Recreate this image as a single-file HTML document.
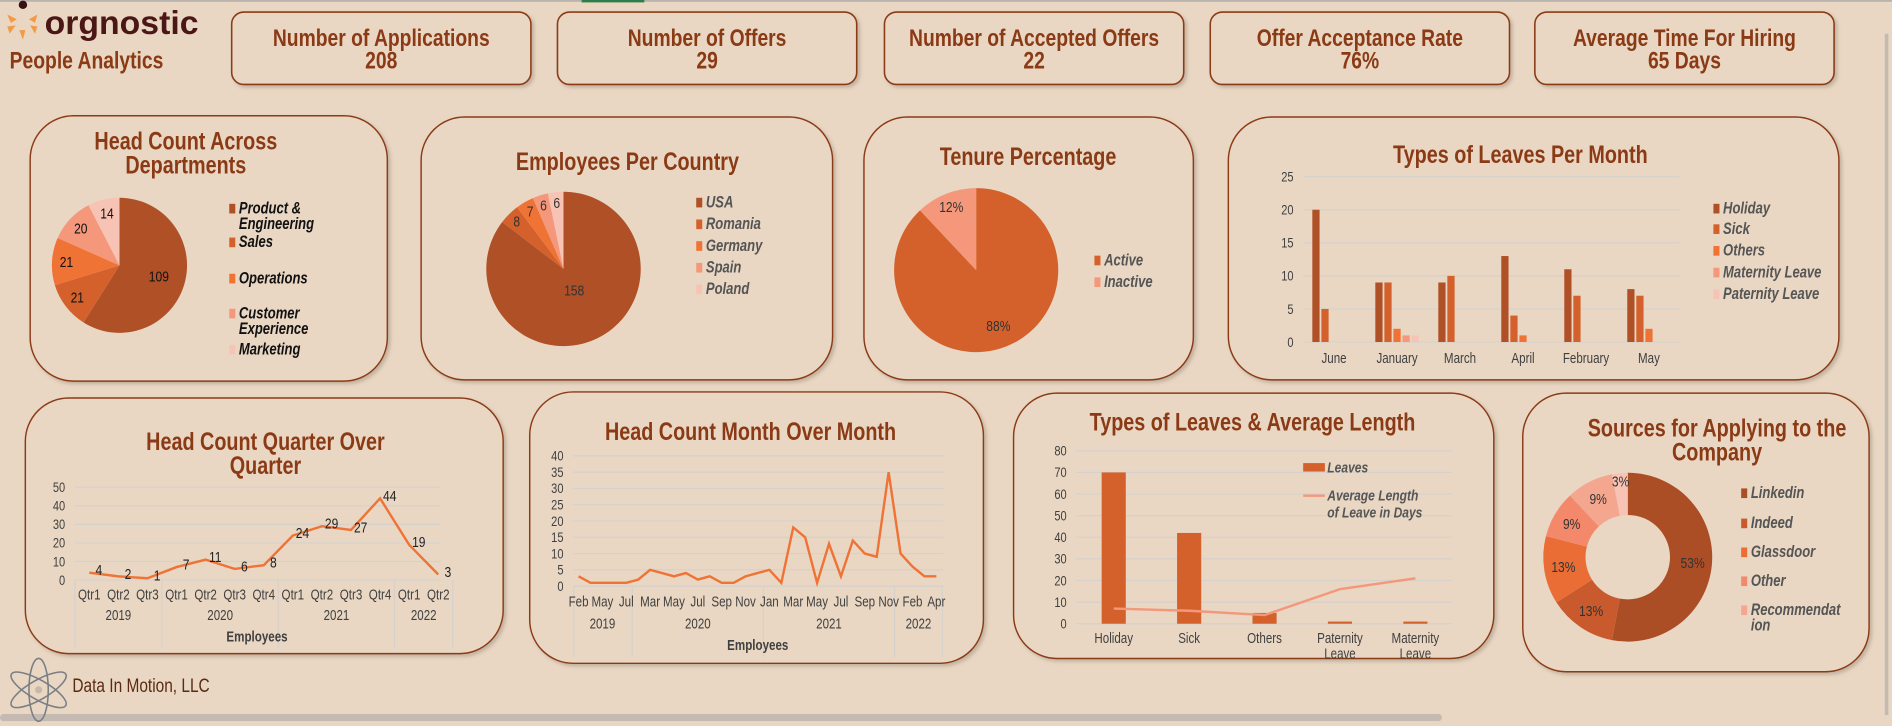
<!DOCTYPE html>
<html><head><meta charset="utf-8"><title>People Analytics</title>
<style>
html,body{margin:0;padding:0;background:#e9d7c3;overflow:hidden;}
svg{display:block;font-family:"Liberation Sans",sans-serif;}
</style></head>
<body>
<svg id="dash" width="1892" height="726" viewBox="0 0 1568 602" preserveAspectRatio="none" xmlns="http://www.w3.org/2000/svg">
<defs>
<filter id="sh" x="-5%" y="-5%" width="115%" height="120%"><feDropShadow dx="2" dy="2" stdDeviation="1.5" flood-color="#7a6a5a" flood-opacity="0.35"/></filter>
</defs>
<rect x="0" y="0" width="1568" height="602" fill="#e9d7c3"/>
<rect x="0" y="0" width="1568" height="1.5" fill="#b9b3ad"/>
<rect x="482" y="0" width="52" height="2" fill="#2e7d4a"/>
<rect x="0" y="592" width="1195" height="6" rx="3" fill="#c4bab2"/>
<rect x="1562" y="28" width="3" height="565" fill="#c4bab2"/>
<g id="logo">
 <circle cx="19" cy="4" r="3.5" fill="#3a1010"/>
 <path d="M6 12 L14 16 L9 19 Z M31 12 L24 16 L29 19 Z M6 22 L13 21 L8 28 Z M31 22 L25 21 L29 28 Z M16 25 L19 33 L21 25 Z" fill="#f39a45"/>
 <text x="37" y="28" font-size="28" font-weight="bold" fill="#4b1616" class="nc">orgnostic</text>
</g>
<text x="8" y="57" font-size="20" fill="#8b3a16" font-weight="bold">People Analytics</text>
<g id="kpis"></g>
<g id="cards"></g>
<g id="footer-logo">
 <g fill="none" stroke="#7a7f85" stroke-width="1.3">
  <ellipse cx="32" cy="572" rx="8" ry="26"/>
  <ellipse cx="32" cy="572" rx="8" ry="26" transform="rotate(60 32 572)"/>
  <ellipse cx="32" cy="572" rx="8" ry="26" transform="rotate(-60 32 572)"/>
 </g>
 <circle cx="32" cy="572" r="3" fill="#c9b8aa"/>
 <text x="60" y="574" font-size="16" fill="#5a2a12">Data In Motion, LLC</text>
</g>
</svg>
<script>
// ---------- DATA ----------
const kpiTitles = ["Number of Applications","Number of Offers","Number of Accepted Offers","Offer Acceptance Rate","Average Time For Hiring"];
const kpiValues = ["208","29","22","76%","65 Days"];

const deptNames = ["Product & Engineering","Sales","Operations","Customer Experience","Marketing"];
const deptValues = [109,21,21,20,14];

const countryNames = ["USA","Romania","Germany","Spain","Poland"];
const countryValues = [158,8,7,6,6];

const tenureNames = ["Active","Inactive"];
const tenureValues = [88,12];

const leaveMonths = ["June","January","March","April","February","May"];
const leaveSeries = ["Holiday","Sick","Others","Maternity Leave","Paternity Leave"];
const leaveHoliday = [20,9,9,13,11,8];
const leaveSick = [5,9,10,4,7,7];
const leaveOthers = [0,2,0,1,0,2];
const leaveMaternity = [0,1,0,0,0,0];
const leavePaternity = [0,1,0,0,0,0];
const leaveTicks = [0,5,10,15,20,25];

const qtrLabels = ["Qtr1","Qtr2","Qtr3","Qtr1","Qtr2","Qtr3","Qtr4","Qtr1","Qtr2","Qtr3","Qtr4","Qtr1","Qtr2"];
const qtrYears = ["2019","2020","2021","2022"];
const qtrYearCounts = [3,4,4,2];
const qtrValues = [4,2,1,7,11,6,8,24,29,27,44,19,3];
const qtrTicks = [0,10,20,30,40,50];

const momLabels = ["Feb","","May","","Jul","","Mar","","May","","Jul","","Sep","","Nov","","Jan","","Mar","","May","","Jul","","Sep","","Nov","","Feb","","Apr"];
const momValues = [3,1,1,1,1,2,5,4,3,4,2,3,1,1,3,4,5,1,18,15,1,13,3,14,10,9,35,10,6,3,3];
const momYears = ["2019","2020","2021","2022"];
const momYearCounts = [5,11,11,4];
const momTicks = [0,5,10,15,20,25,30,35,40];

const lenCategories = [["Holiday"],["Sick"],["Others"],["Paternity","Leave"],["Maternity","Leave"]];
const lenLeaves = [70,42,5,1,1];
const lenAverage = [7,6,4,16,21];
const lenTicks = [0,10,20,30,40,50,60,70,80];

const srcNames = ["Linkedin","Indeed","Glassdoor","Other","Recommendation"];
const srcValues = [53,13,13,9,9,3];
const srcLabels = ["53%","13%","13%","9%","9%","3%"];

// ---------- HELPERS ----------
const NS="http://www.w3.org/2000/svg";
function mk(tag, attrs, parent){const e=document.createElementNS(NS,tag);for(const k in attrs)e.setAttribute(k,attrs[k]);if(parent)parent.appendChild(e);return e;}
function txt(parent,x,y,s,size,fill,extra){const e=mk("text",Object.assign({x:x,y:y,"font-size":size,fill:fill},extra||{}),parent);e.textContent=s;return e;}
const root=document.getElementById("dash");
const cards=document.getElementById("cards");
const kpis=document.getElementById("kpis");

const kpiX=[192,462,733,1003,1272];
kpiTitles.forEach((t,i)=>{
  const g=mk("g",{},kpis);
  
  
  mk("rect",{x:kpiX[i],y:10,width:248,height:60,rx:10,fill:"#e9d7c3",stroke:"#8b3a16","stroke-width":1.3,filter:"url(#sh)"},g);
  const a=txt(g,kpiX[i]+124,38,t,20,"#8b3a16",{"text-anchor":"middle","font-weight":"bold"});
  
  
  const b=txt(g,kpiX[i]+124,57,kpiValues[i],20,"#8b3a16",{"text-anchor":"middle","font-weight":"bold"});
  
  
});

function card(x,y,w,h,name){
  const g=mk("g",{},cards);
  
  
  mk("rect",{x:x,y:y,width:w,height:h,rx:36,fill:"#e9d7c3",stroke:"#8b3a16","stroke-width":1.2,filter:"url(#sh)"},g);
  return g;
}
function title(g,x,lines,y0,lh){
  lines.forEach((l,i)=>{const t=txt(g,x,y0+i*lh,l,20.5,"#8b3a16",{"text-anchor":"middle","font-weight":"bold"});
    
    });
}
function legend(g,x,items,colors,ys,fill){
  items.forEach((it,i)=>{
    const lines=Array.isArray(it)?it:[it];
    const lg=mk("g",{},g);
    
    
    mk("rect",{x:x,y:ys[i]-8,width:5,height:8,fill:colors[i]},lg);
    lines.forEach((l,j)=>txt(lg,x+8,ys[i]+j*13,l,13.5,fill,{"font-weight":"bold","font-style":"italic"}));
  });
}
function pt(cx,cy,r,a){return [cx+r*Math.sin(a),cy-r*Math.cos(a)];}
function pie(g,cx,cy,r,ri,values,colors,labels,labelR,labelFill){
  const tot=values.reduce((a,b)=>a+b,0);let a0=0;
  values.forEach((v,i)=>{
    const a1=a0+v/tot*2*Math.PI;const large=(a1-a0)>Math.PI?1:0;
    const p0=pt(cx,cy,r,a0),p1=pt(cx,cy,r,a1);let d;
    if(ri>0){const q1=pt(cx,cy,ri,a1),q0=pt(cx,cy,ri,a0);
      d=`M${p0[0]},${p0[1]} A${r},${r} 0 ${large} 1 ${p1[0]},${p1[1]} L${q1[0]},${q1[1]} A${ri},${ri} 0 ${large} 0 ${q0[0]},${q0[1]} Z`;}
    else d=`M${cx},${cy} L${p0[0]},${p0[1]} A${r},${r} 0 ${large} 1 ${p1[0]},${p1[1]} Z`;
    const s=mk("path",{d:d,fill:colors[i%colors.length]},g);
    
    
    const lr=typeof labelR==="function"?labelR(v/tot):labelR;
    const lp=pt(cx,cy,lr,(a0+a1)/2);
    const t=txt(g,lp[0],lp[1]+4,labels[i],12.5,labelFill,{"text-anchor":"middle"});
    
    
    a0=a1;
  });
}
const C5=["#b05027","#d4612c","#f07336","#f4977a","#f7c3b4"];
const GRID="#d6d1cd", AX="#404040";

// Chart 1
{const g=card(25,96,296,220,"head-count-departments-card");
 title(g,154,["Head Count Across","Departments"],124,20);
 pie(g,99,220,56,0,deptValues,C5,deptValues.map(String),f=>f>0.4?34:44,"#111");
 legend(g,190,[["Product &","Engineering"],"Sales","Operations",["Customer","Experience"],"Marketing"],C5,[177,205,235,264,294],"#111");}

// Chart 2
{const g=card(349,97,341,218,"employees-per-country-card");
 title(g,520,["Employees Per Country"],141,20);
 pie(g,467,223,64,0,countryValues,C5,countryValues.map(String),f=>f>0.4?20:55,"#333");
 legend(g,577,countryNames,C5,[172,190,208,226,244],"#555");}

// Chart 3
{const g=card(716,97,273,218,"tenure-percentage-card");
 title(g,852,["Tenure Percentage"],137,20);
 pie(g,809,224,68,0,tenureValues,["#d4612c","#f4977a"],tenureValues.map(v=>v+"%"),f=>f>0.5?50:56,"#333");
 legend(g,907,tenureNames,["#d4612c","#f4977a"],[220,238],"#555");}

// Chart 4
{const g=card(1018,97,506,218,"types-of-leaves-per-month-card");
 title(g,1260,["Types of Leaves Per Month"],135,20);
 const y0=283.6,yTop=146.5,yMax=25;const ys=v=>y0-v*(y0-yTop)/yMax;
 const xc=j=>1105.6+j*52.2;
 leaveTicks.forEach(t=>{mk("line",{x1:1080,x2:1392,y1:ys(t),y2:ys(t),stroke:GRID,"stroke-width":1},g);
   const l=txt(g,1072,ys(t)+4,String(t),11.5,AX,{"text-anchor":"end"});
   
   });
 const series=[leaveHoliday,leaveSick,leaveOthers,leaveMaternity,leavePaternity];
 series.forEach((s,k)=>s.forEach((v,j)=>{if(v<=0)return;
   const b=mk("rect",{x:xc(j)+(k-2)*7.5-3,y:ys(v),width:6,height:y0-ys(v),fill:C5[k]},g);
   
   }));
 leaveMonths.forEach((m,j)=>{const l=txt(g,xc(j),301,m,12,AX,{"text-anchor":"middle"});
   
   });
 legend(g,1420,leaveSeries,C5,[177,194,212,230,248],"#555");}

// Chart 5
{const g=card(21,330,396,212,"head-count-quarter-card");
 title(g,220,["Head Count Quarter Over","Quarter"],373,20);
 const y0=481,yTop=404,yMax=50;const ys=v=>y0-v*(y0-yTop)/yMax;
 const xs=i=>74+i*24.1;
 qtrTicks.forEach(t=>{mk("line",{x1:62,x2:365,y1:ys(t),y2:ys(t),stroke:GRID,"stroke-width":1},g);
   const l=txt(g,54,ys(t)+4,String(t),11.5,AX,{"text-anchor":"end"});
   
   });
 let idx=0;const bounds=[xs(0)-12];
 qtrYears.forEach((y,k)=>{const s=idx,e=idx+qtrYearCounts[k]-1;bounds.push(xs(e)+12);
   const l=txt(g,(xs(s)+xs(e))/2,514,y,12,AX,{"text-anchor":"middle"});
   
   
   idx=e+1;});
 bounds.forEach(b=>mk("line",{x1:b,x2:b,y1:y0,y2:538,stroke:GRID,"stroke-width":1},g));
 qtrLabels.forEach((q,i)=>{const l=txt(g,xs(i),497,q,12,AX,{"text-anchor":"middle"});
   
   });
 const line=mk("polyline",{points:qtrValues.map((v,i)=>xs(i)+","+ys(v)).join(" "),fill:"none",stroke:"#f07336","stroke-width":2},g);
 
 
 qtrValues.forEach((v,i)=>{const l=txt(g,xs(i)+8,ys(v)+2,String(v),12.5,"#222",{"text-anchor":"middle"});
   
   });
 const e=txt(g,213,532,"Employees",12,AX,{"text-anchor":"middle","font-weight":"bold"});
 
 }

// Chart 6
{const g=card(439,325,376,225,"head-count-month-card");
 title(g,622,["Head Count Month Over Month"],365,20);
 const y0=486,yTop=378,yMax=40;const ys=v=>y0-v*(y0-yTop)/yMax;
 const n=momValues.length;const xs=i=>479.5+i*(776-479.5)/(n-1);
 momTicks.forEach(t=>{mk("line",{x1:475,x2:782,y1:ys(t),y2:ys(t),stroke:GRID,"stroke-width":1},g);
   const l=txt(g,467,ys(t)+4,String(t),11.5,AX,{"text-anchor":"end"});
   
   });
 let idx=0;const step=(776-479.5)/(n-1);const bounds=[xs(0)-4];
 momYears.forEach((y,k)=>{const s=idx,e=idx+momYearCounts[k]-1;bounds.push(xs(e)+step/2);
   const l=txt(g,(xs(s)+xs(e))/2,521,y,12,AX,{"text-anchor":"middle"});
   
   
   idx=e+1;});
 bounds.forEach(b=>mk("line",{x1:b,x2:b,y1:y0,y2:545,stroke:GRID,"stroke-width":1},g));
 momLabels.forEach((m,i)=>{if(!m)return;const l=txt(g,xs(i),503,m,12,AX,{"text-anchor":"middle"});
   
   });
 const line=mk("polyline",{points:momValues.map((v,i)=>xs(i)+","+ys(v)).join(" "),fill:"none",stroke:"#f07336","stroke-width":2},g);
 
 
 const e=txt(g,628,539,"Employees",12,AX,{"text-anchor":"middle","font-weight":"bold"});
 
 }

// Chart 7
{const g=card(840,326,398,220,"leaves-average-length-card");
 title(g,1038,["Types of Leaves & Average Length"],357,20);
 const y0=517.2,yTop=373.8,yMax=80;const ys=v=>y0-v*(y0-yTop)/yMax;
 const xs=i=>923+i*62.5;
 lenTicks.forEach(t=>{mk("line",{x1:892,x2:1203,y1:ys(t),y2:ys(t),stroke:GRID,"stroke-width":1},g);
   const l=txt(g,884,ys(t)+4,String(t),11.5,AX,{"text-anchor":"end"});
   
   });
 lenLeaves.forEach((v,i)=>{const b=mk("rect",{x:xs(i)-10,y:ys(v),width:20,height:y0-ys(v),fill:"#d4612c"},g);
   
   });
 const line=mk("polyline",{points:lenAverage.map((v,i)=>xs(i)+","+ys(v)).join(" "),fill:"none",stroke:"#f4977a","stroke-width":2},g);
 
 
 lenCategories.forEach((c,i)=>c.forEach((s,j)=>{const l=txt(g,xs(i),533+j*13,s,12,AX,{"text-anchor":"middle"});
   
   }));
 const lg1=mk("g",{},g);
 
 
 mk("rect",{x:1080,y:384,width:18,height:7,fill:"#d4612c"},lg1);
 txt(lg1,1100,392,"Leaves",12.5,"#555",{"font-weight":"bold","font-style":"italic"});
 const lg2=mk("g",{},g);
 
 
 mk("line",{x1:1080,x2:1098,y1:411,y2:411,stroke:"#f4977a","stroke-width":2},lg2);
 txt(lg2,1100,415,"Average Length",12.5,"#555",{"font-weight":"bold","font-style":"italic"});
 txt(lg2,1100,429,"of Leave in Days",12.5,"#555",{"font-weight":"bold","font-style":"italic"});}

// Chart 8
{const g=card(1262,326,287,231,"sources-for-applying-card");
 title(g,1423,["Sources for Applying to the","Company"],362,20);
 pie(g,1349,462,70,35,srcValues,["#ab4e25","#c95a2d","#e96d35","#f3896a","#f4a68e","#f7c3b4"],srcLabels,f=>f<0.05?63:54,"#333");
 legend(g,1443,["Linkedin","Indeed","Glassdoor","Other",["Recommendat","ion"]],["#ab4e25","#c95a2d","#e96d35","#f3896a","#f4a68e"],[413,438,462,486,510],"#555");}

// Emulate a condensed typeface: squeeze every text horizontally
document.querySelectorAll("#dash text").forEach(t=>{
  if(t.classList.contains("nc"))return;
  const w=t.getComputedTextLength();
  if(w>0){t.setAttribute("textLength",(w*0.8).toFixed(1));t.setAttribute("lengthAdjust","spacingAndGlyphs");}
});
</script>
</body></html>
